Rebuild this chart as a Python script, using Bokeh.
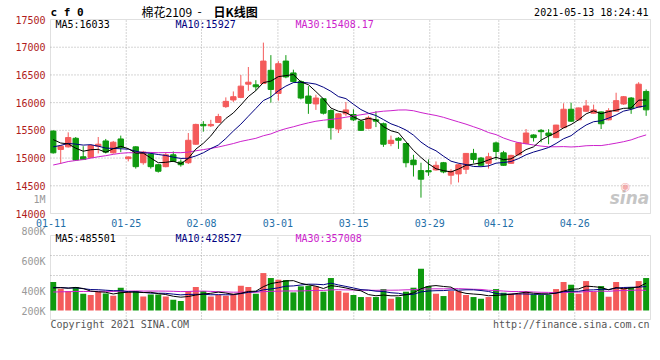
import numpy as np
import pandas as pd
from bokeh.plotting import figure
from bokeh.models import Label, Range1d, ColumnDataSource, BoxAnnotation
from bokeh.embed import file_html
from bokeh.resources import INLINE

# ---------------- data ----------------
opens = [15487, 15155, 15202, 15357, 15023, 15012, 15214, 15309, 15095, 15345,
         14990, 15202, 14916, 15071, 14880, 14845, 15059, 14928, 14916, 15250,
         15607, 15583, 15643, 15928, 16048, 16095, 16333, 16321, 16345, 16583,
         16166, 16750, 16536, 16380, 16119, 15977, 16071, 15857, 15524, 15798,
         15786, 15666, 15536, 15690, 15619, 15262, 15357, 15262, 14964, 14774,
         14774, 14786, 14916, 14691, 14714, 14798, 15084, 15000, 14905, 15274,
         15095, 14905, 15059, 15262, 15417, 15500, 15452, 15369, 15548, 15881,
         15690, 15845, 15810, 15833, 15690, 15845, 15976, 16083, 15917, 16202]
closes = [15095, 15214, 15370, 14964, 14976, 15227, 15250, 15107, 15286, 15190,
          15020, 14845, 15107, 14845, 14762, 15059, 14940, 14880, 15321, 15607,
          15583, 15607, 15750, 16023, 16107, 16298, 16369, 16286, 16750, 16238,
          16702, 16464, 16380, 16083, 15988, 16083, 15810, 15548, 15798, 15869,
          15690, 15500, 15726, 15666, 15250, 15321, 15321, 14916, 14880, 14619,
          14750, 14869, 14750, 14762, 14880, 15084, 14976, 14869, 15023, 15119,
          14869, 15048, 15274, 15452, 15369, 15476, 15405, 15595, 15881, 15666,
          15905, 15940, 15869, 15619, 15857, 16036, 16107, 15893, 16333, 15870]
highs = [15500, 15230, 15464, 15380, 15214, 15250, 15380, 15345, 15309, 15405,
         15030, 15214, 15130, 15095, 14893, 15107, 15119, 14976, 15452, 15620,
         15666, 15690, 15798, 16095, 16202, 16500, 16643, 16405, 17083, 16857,
         16750, 16857, 16595, 16405, 16298, 16143, 16080, 15881, 15810, 16012,
         15881, 15690, 15762, 15845, 15640, 15405, 15380, 15270, 15059, 14916,
         14976, 14940, 14930, 14800, 14900, 15090, 15166, 15020, 15095, 15298,
         15130, 15060, 15290, 15524, 15430, 15524, 15520, 15600, 15988, 16000,
         15910, 16048, 15964, 15840, 15900, 16179, 16120, 16100, 16369, 16238]
lows = [15080, 14893, 15190, 14950, 14964, 15000, 15084, 15084, 15080, 15107,
        14940, 14810, 14880, 14810, 14738, 14833, 14928, 14845, 14893, 15240,
        15476, 15560, 15640, 15905, 16012, 16080, 16214, 16214, 16340, 16000,
        16036, 16440, 16360, 16059, 15798, 15869, 15786, 15333, 15452, 15760,
        15666, 15490, 15520, 15559, 15202, 15214, 15166, 14833, 14667, 14286,
        14679, 14774, 14726, 14524, 14560, 14714, 14905, 14860, 14810, 14964,
        14860, 14900, 15050, 15250, 15298, 15286, 15250, 15360, 15540, 15650,
        15680, 15830, 15800, 15524, 15680, 15840, 15960, 15798, 15910, 15762]
volumes_k = [506, 387, 346, 417, 298, 275, 328, 304, 263, 405,
             328, 346, 251, 286, 286, 251, 192, 168, 346, 417,
             346, 251, 275, 263, 298, 440, 417, 298, 665, 577,
             547, 541, 322, 429, 440, 429, 334, 577, 346, 316,
             275, 239, 239, 239, 381, 209, 239, 334, 405, 742,
             434, 298, 257, 346, 346, 275, 239, 209, 239, 381,
             316, 298, 298, 334, 286, 275, 275, 381, 506, 458,
             298, 523, 334, 434, 245, 506, 405, 417, 523, 577]
# sessions before the visible window (inferred from where the MA lines start)
prior_closes = [14330, 14380, 14410, 14450, 14480, 14490, 14530, 14550, 14610,
                14730, 14830, 14880, 14930, 14910, 14980, 14950, 14930, 15005,
                14900, 14950,
                14950, 15000, 15100, 15150, 15155,
                15520, 15450, 15350, 15250]
prior_volumes_k = [260, 300, 280, 310, 270, 250, 290, 320, 300, 280,
                   260, 310, 290, 270, 300, 280, 310, 290, 270, 300,
                   400, 450, 380, 440, 430,
                   360, 390, 350, 394]

date_labels = ["01-11", "01-25", "02-08", "03-01", "03-15", "03-29", "04-12", "04-26"]
date_pos = [-0.3, 9.73, 19.76, 29.94, 40.05, 50.17, 59.37, 69.49]
price_ticks = [14000, 14500, 15000, 15500, 16000, 16500, 17000, 17500]
vol_grid = [622000, 977000]
vol_axis_labels = ["800K", "600K", "400K", "200K"]

# ---------------- geometry (reference screen px) ----------------
W, H = 652, 352          # figure size
OX, OY = 0, 0            # page offset of the figure
X0, X1 = -0.36, 79.58    # x-range of the panels
FL, FR = 50, 650         # panel left/right (px)
P_TOP, P_BOT = 19, 213   # price panel top/bottom (px)
V_TOP, V_BOT, V_BASE = 235, 319, 310   # volume panel top/bottom/zero (px)
V_PER_PX = 17770

UX = (X1 - X0) / (FR - FL)
UP = 3500 / (P_BOT - P_TOP)
def sx(px):
    return X0 + (px - FL) * UX
def py(px):
    return 17500 - (px - P_TOP) * UP
def vy(px):
    return (V_BASE - px) * V_PER_PX

RED, GREEN = "#f45b5b", "#0f9a0f"
MA_COLORS = {5: "#000000", 10: "#000080", 30: "#cc22cc"}
MONO = "DejaVu Sans Mono"
GRID = "#aaaaaa"

n = len(closes)
idx = np.arange(n)
up = np.array(closes) >= np.array(opens)
colors = [RED if u else GREEN for u in up]
src = ColumnDataSource(dict(
    x=idx, o=opens, c=closes, h=highs, l=lows,
    top=np.maximum(opens, closes), bot=np.minimum(opens, closes),
    vol=np.array(volumes_k) * 1000, color=colors))

all_c = pd.Series(prior_closes + closes, dtype=float)
all_v = pd.Series(prior_volumes_k + volumes_k, dtype=float) * 1000
k = len(prior_closes)
ma_p = {m: all_c.rolling(m).mean().to_numpy()[k:] for m in (5, 10, 30)}
ma_v = {m: all_v.rolling(m).mean().to_numpy()[k:] for m in (5, 10, 30)}

p = figure(width=W, height=H,
           x_range=Range1d(sx(OX), sx(OX + W)),
           y_range=Range1d(py(OY + H), py(OY)),
           output_backend="svg", toolbar_location=None,
           min_border=0, min_border_left=0, min_border_right=0,
           min_border_top=0, min_border_bottom=0)
p.extra_y_ranges = {"vol": Range1d(vy(OY + H), vy(OY))}
p.xaxis.visible = False
p.yaxis.visible = False
p.xgrid.visible = False
p.ygrid.visible = False
p.outline_line_color = None
p.background_fill_color = "white"
p.border_fill_color = "white"

def lab(x, y, text, color="#000000", size="10px", align="left", font=MONO,
        style="normal", alpha=1.0, rng="default"):
    p.add_layout(Label(x=x, y=y, text=text, text_color=color, text_font_size=size,
                       text_align=align, text_baseline="middle", text_font=font,
                       text_font_style=style, text_alpha=alpha, y_range_name=rng))

# ---- price panel grid ----
inner_p = price_ticks[1:-1]
p.segment(x0=[X0] * len(inner_p), x1=[X1] * len(inner_p), y0=inner_p, y1=inner_p,
          line_color=GRID, line_dash="1 2", line_width=1)
p.segment(x0=date_pos[1:], x1=date_pos[1:], y0=[14000] * 7, y1=[17500] * 7,
          line_color=GRID, line_dash="1 2", line_width=1)

# ---- candles ----
p.segment(x0="x", y0="l", x1="x", y1="h", color="color", line_width=1, source=src)
p.vbar(x="x", width=0.72, top="top", bottom="bot", fill_color="color", line_color="color",
       line_width=1, source=src)
for m in (30, 10, 5):
    p.line(idx, ma_p[m], line_color=MA_COLORS[m], line_width=1)

p.add_layout(BoxAnnotation(left=X0, right=X1, bottom=14000, top=17500,
                           fill_alpha=0, line_color="#999999", line_width=1))

# ---- price texts ----
for t in price_ticks:
    lab(sx(45), t, str(t), color="#b01c1c", align="right")
lab(sx(45), py(199), "1M", color="#999999", align="right")
for pos, txt in zip(date_pos, date_labels):
    lab(pos, py(222), txt, color="#1f6fa8", align="center")
lab(sx(50), py(12), "c f 0", style="bold", size="11px")
lab(sx(141), py(11), "棉花2109", size="12px", align="left", font="Noto Sans CJK SC")
lab(sx(199), py(11), "-", size="12px", align="center", font="Noto Sans CJK SC")
lab(sx(213), py(11), "日K线图", size="12px", align="left", font="Noto Sans CJK SC", style="bold")
lab(sx(648), py(12), "2021-05-13 18:24:41", align="right")
lab(sx(55), py(24), "MA5:16033", color=MA_COLORS[5])
lab(sx(175), py(24), "MA10:15927", color=MA_COLORS[10])
lab(sx(295), py(24), "MA30:15408.17", color=MA_COLORS[30])
lab(sx(629), py(197), "sina", color="#bbbbbb", size="17px", align="center",
    font="DejaVu Sans", style="bold italic", alpha=0.85)
lab(sx(625), py(186), "◉", color="#f08a8a", size="11px", align="center", font="DejaVu Sans", alpha=0.7)

# ---- volume panel ----
nv = len(vol_grid)
p.segment(x0=[X0] * nv, x1=[X1] * nv, y0=vol_grid, y1=vol_grid, y_range_name="vol",
          line_color=GRID, line_dash="1 2", line_width=1)
p.segment(x0=date_pos[1:], x1=date_pos[1:], y0=[vy(V_BOT)] * 7, y1=[vy(V_TOP)] * 7,
          y_range_name="vol", line_color=GRID, line_dash="1 2", line_width=1)
p.vbar(x="x", width=0.8, top="vol", bottom=0, fill_color="color", line_color=None,
       source=src, y_range_name="vol")
for m in (30, 10, 5):
    p.line(idx, ma_v[m], line_color=MA_COLORS[m], line_width=1, y_range_name="vol")
p.add_layout(BoxAnnotation(left=X0, right=X1, bottom=vy(V_BOT), top=vy(V_TOP),
                           y_range_name="vol", fill_alpha=0, line_color="#999999", line_width=1))

lab(sx(55), vy(237.5), "MA5:485501", color=MA_COLORS[5], rng="vol")
lab(sx(175), vy(237.5), "MA10:428527", color=MA_COLORS[10], rng="vol")
lab(sx(295), vy(237.5), "MA30:357008", color=MA_COLORS[30], rng="vol")
for text, ypx in zip(vol_axis_labels, [231, 260.7, 290.7, 310.7]):
    lab(sx(45), vy(ypx), text, color="#999999", align="right", rng="vol")
lab(sx(50), vy(324), "Copyright 2021 SINA.COM", color="#555555", rng="vol")
lab(sx(649), vy(324), "http://finance.sina.com.cn", color="#555555", align="right", rng="vol")

open("out.html", "w").write(file_html(p, INLINE))
